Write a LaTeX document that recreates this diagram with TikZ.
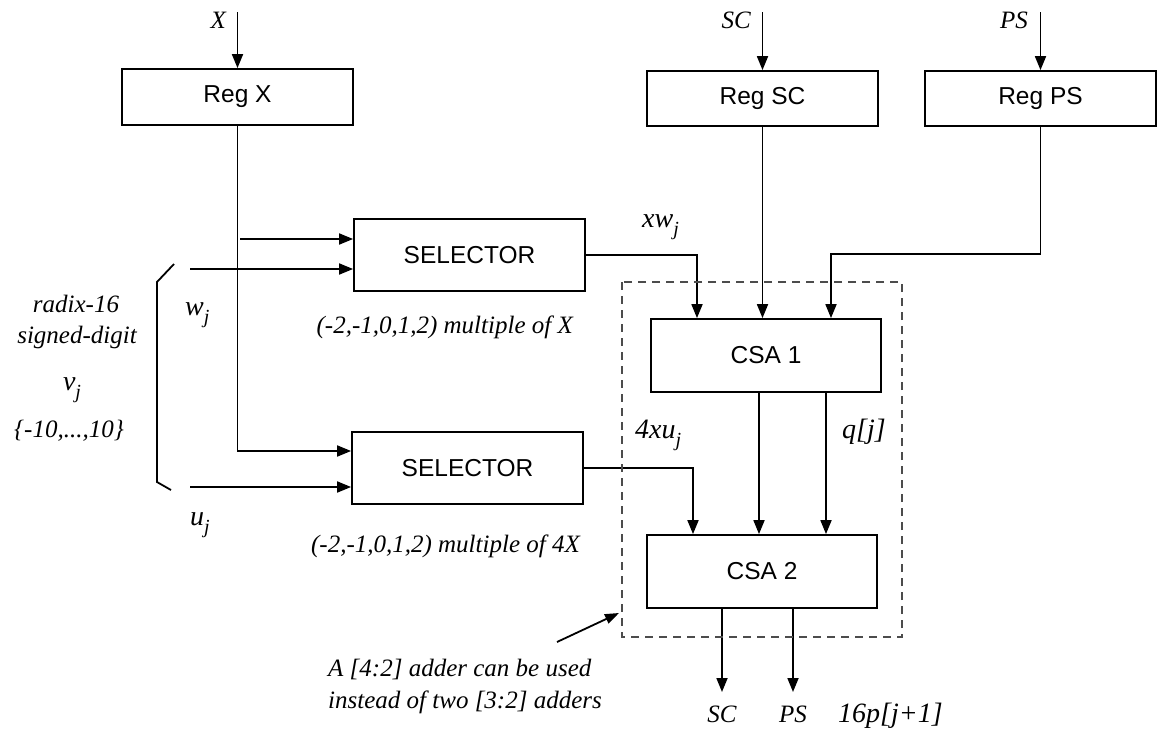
\documentclass[tikz,border=0pt]{standalone}
\usepackage{fontspec}
\setmainfont{Liberation Serif}
\newfontfamily\hv{Liberation Sans}
\usetikzlibrary{arrows.meta}
% lowered subscript j
\newcommand\sj[1]{\raisebox{-0.32em}{\fontsize{#1}{#1}\selectfont j}}
\tikzset{
  blk/.style={draw, line width=1.8pt, minimum width=231pt, inner sep=0pt,
              font=\hv\fontsize{24.5}{28}\selectfont},
  wire/.style={line width=1.8pt},
  arr/.style={wire, -{Triangle[length=14pt,width=11pt]}},
  lab/.style={inner sep=0pt, font=\itshape\fontsize{25}{28}\selectfont},
  biglab/.style={inner sep=0pt, font=\itshape\fontsize{28}{30}\selectfont},
  group/.style={draw=black!70, line width=1.2pt, dash pattern=on 8pt off 6pt},
}
\begin{document}
\begin{tikzpicture}[x=1pt,y=-1pt]
\useasboundingbox[fill=white] (0,0) rectangle (1163,731);

% registers
\node[blk, minimum height=56pt] (regx)  at (237.5,97)   {Reg X};
\node[blk, minimum height=55pt] (regsc) at (762.5,98.5) {Reg SC};
\node[blk, minimum height=55pt] (regps) at (1040.5,98.5){Reg PS};

% selectors
\node[blk, minimum height=72pt] (sel1) at (469.5,255) {SELECTOR};
\node[blk, minimum height=72pt] (sel2) at (467.5,468) {SELECTOR};

% carry-save adders
\node[blk, minimum height=73pt, minimum width=230pt] (csa1) at (766,355.5) {CSA 1};
\node[blk, minimum height=73pt, minimum width=230pt] (csa2) at (762,571.5) {CSA 2};

% inputs at the top
\coordinate (inx)  at (237.5,12);
\coordinate (insc) at (762.5,12);
\coordinate (inps) at (1040.5,12);
\draw[arr] (inx)  -- (regx.north);
\draw[arr] (insc) -- (regsc.north);
\draw[arr] (inps) -- (regps.north);
\node[lab, anchor=base east] (tx)  at (226,28)  {X};
\node[lab, anchor=base east] (tsc) at (751,28)  {SC};
\node[lab, anchor=base east] (tps) at (1028,28) {PS};

% X distribution to both selectors
\coordinate (tapa) at (240,239);
\coordinate (tapb) at (237.5,451);
\draw[arr] (regx.south) |- (tapb -| sel2.west);
\draw[arr] (tapa) -- (tapa -| sel1.west);

% digit inputs
\coordinate (wj) at (190,269);
\coordinate (uj) at (190,487);
\draw[arr] (wj) -- (wj -| sel1.west);
\draw[arr] (uj) -- (uj -| sel2.west);

% bracket grouping w_j and u_j
\draw[wire] (174,264) -- (157,282) -- (157,482) -- (171,490);

% selector outputs
\coordinate (xa) at (697,0);
\coordinate (xc) at (693,0);
\draw[arr] (sel1.east) -| (xa |- csa1.north);
\draw[arr] (sel2.east) -| (xc |- csa2.north);

% register outputs into CSA 1
\coordinate (xb) at (831,254);
\draw[arr] (regsc.south) -- (regsc.south |- csa1.north);
\draw[arr] (regps.south) |- (xb) -- (xb |- csa1.north);

% CSA 1 to CSA 2
\coordinate (xd) at (759,0);
\coordinate (xe) at (826,0);
\draw[arr] (xd |- csa1.south) -- (xd |- csa2.north);
\draw[arr] (xe |- csa1.south) -- (xe |- csa2.north);

% outputs
\coordinate (osc) at (722,692);
\coordinate (ops) at (793,692);
\draw[arr] (osc |- csa2.south) -- (osc);
\draw[arr] (ops |- csa2.south) -- (ops);

% [4:2] grouping
\draw[group] (622,282) rectangle (902,637);
\coordinate (annfrom) at (557,642);
\coordinate (annto)   at (619,613);
\draw[wire, -{Triangle[length=14pt,width=10pt]}] (annfrom) -- (annto);

% labels
\node[biglab, anchor=base west] (lxw) at (642,227) {xw\sj{20}};
\node[biglab, anchor=base west] (l4xu) at (635,438) {4xu\sj{20}};
\node[biglab, anchor=base west] (lq) at (842,438) {q[j]};
\node[lab, anchor=base east] (m1) at (573,333) {(-2,-1,0,1,2) multiple of X};
\node[lab, anchor=base east] (m2) at (580,552) {(-2,-1,0,1,2) multiple of 4X};
\node[biglab, anchor=base west] (lw) at (185,315) {w\sj{20}};
\node[biglab, anchor=base west] (lu) at (190,525) {u\sj{20}};
\node[lab, anchor=base] (r1) at (76,312) {radix-16};
\node[lab, anchor=base] (r2) at (77,343) {signed-digit};
\node[biglab, anchor=base] (lv) at (72,390) {v\sj{20}};
\node[lab, anchor=base] (r3) at (69,437) {\{-10,...,10\}};
\node[lab, anchor=base west] (n1) at (328,676) {A [4:2] adder can be used};
\node[lab, anchor=base west] (n2) at (328,708) {instead of two [3:2] adders};
\node[lab, anchor=base] (bsc) at (722,722) {SC};
\node[lab, anchor=base] (bps) at (793,722) {PS};
\node[biglab, anchor=base west] (bp) at (838,722) {16p[j+1]};
\end{tikzpicture}
\end{document}
